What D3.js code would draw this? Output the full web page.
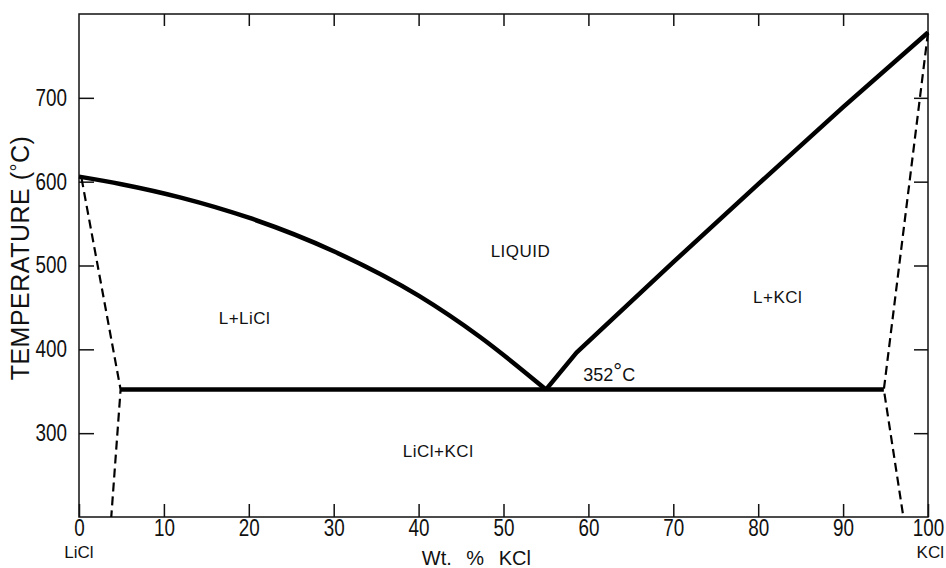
<!DOCTYPE html>
<html>
<head>
<meta charset="utf-8">
<script src="https://cdn.jsdelivr.net/npm/d3@7"></script>
<style>
  body { margin: 0; background: #fff; }
  svg text { font-family: "Liberation Sans", Arial, sans-serif; fill: #111; }
</style>
</head>
<body>
<svg id="chartSVG"></svg>
<script>
// data (wt% KCl, temperature in C)
let liquidusLiCl = [[0, 606], [5, 597], [12, 581], [20, 557], [30, 517], [40, 464], [47.2, 415], [55, 352]];
let liquidusKCl = [[55, 352], [58.6, 396], [70, 504], [80, 597], [90, 689], [100, 778]];
let eutectic = [[4.9, 352], [94.8, 352]];
let solvusLiCl = [[0.3, 604], [4.9, 352], [3.8, 200]];
let solvusKCl = [[100, 778], [94.8, 352], [97.1, 200]];

let xTicks = [0, 10, 20, 30, 40, 50, 60, 70, 80, 90, 100];
let yTicks = [300, 400, 500, 600, 700];

let regionLabels = [
  {text: 'LIQUID', x: 52, y: 510},
  {text: 'L+LiCl', x: 19.5, y: 430},
  {text: 'L+KCl', x: 82.3, y: 455},
  {text: 'LiCl+KCl', x: 42.3, y: 271}
];

let widthSVG = 946;
let heightSVG = 568;
let margins = {
  top: 14,
  bottom: 51,
  right: 18,
  left: 79
};

let width = widthSVG - margins.left - margins.right;
let height = heightSVG - margins.top - margins.bottom;

let SVG = d3.select('svg#chartSVG')
            .attr('width', widthSVG)
            .attr('height', heightSVG);

let SVGG = SVG.append('g')
              .attr('transform', `translate(${margins.left}, ${margins.top})`);

let x = d3.scaleLinear().domain([0, 100]).range([0, width]);
let y = d3.scaleLinear().domain([200, 800]).range([height, 0]);

// frame
SVGG.append('rect')
    .attr('width', width)
    .attr('height', height)
    .style('fill', 'none')
    .style('stroke', '#111')
    .style('stroke-width', 1.5);

// axes with inward ticks
let narrow = 0.82; // fake a narrow face, none is installed

let xAxis = d3.axisBottom(x).tickValues(xTicks).tickSize(-13).tickPadding(3).tickFormat(d => d);
let yAxis = d3.axisLeft(y).tickValues(yTicks).tickSize(-15).tickFormat(d => d);

let gx = SVGG.append('g').attr('transform', `translate(0, ${height})`).call(xAxis);
let gy = SVGG.append('g').call(yAxis);
let gTop = SVGG.append('g').call(d3.axisTop(x).tickValues(xTicks.slice(1, -1)).tickSize(-12).tickFormat(''));
let gRight = SVGG.append('g').attr('transform', `translate(${width}, 0)`)
                 .call(d3.axisRight(y).tickValues(yTicks).tickSize(-14).tickFormat(''));

[gx, gy, gTop, gRight].forEach(g => {
  g.select('.domain').remove();
  g.selectAll('.tick line').style('stroke', '#111').style('stroke-width', 1.5);
  g.selectAll('text')
   .style('font-family', '"Liberation Sans", Arial, sans-serif')
   .style('font-size', '23px')
   .style('fill', '#111')
   .attr('transform', `scale(${narrow}, 1)`);
});
gx.selectAll('text').attr('x', 0);
gy.selectAll('text').attr('x', -12 / narrow);

// curves
let line = d3.line().x(d => x(d[0])).y(d => y(d[1]));

SVGG.append('path')
    .datum(liquidusLiCl)
    .attr('d', line.curve(d3.curveMonotoneX))
    .style('fill', 'none').style('stroke', '#000').style('stroke-width', 4.5);

line.curve(d3.curveLinear);

SVGG.append('path')
    .datum(liquidusKCl)
    .attr('d', line)
    .style('fill', 'none').style('stroke', '#000').style('stroke-width', 4.5)
    .style('stroke-linejoin', 'round');

SVGG.append('path')
    .datum(eutectic)
    .attr('d', line)
    .style('fill', 'none').style('stroke', '#000').style('stroke-width', 4.5);

[solvusLiCl, solvusKCl].forEach(s => {
  SVGG.append('path')
      .datum(s)
      .attr('d', line)
      .style('fill', 'none').style('stroke', '#000').style('stroke-width', 2.2)
      .style('stroke-dasharray', '9,5');
});

// region labels
SVGG.selectAll('text.region')
    .data(regionLabels)
    .enter()
    .append('text')
    .classed('region', true)
    .attr('x', d => x(d.x))
    .attr('y', d => y(d.y))
    .attr('text-anchor', 'middle')
    .style('font-size', '17px')
    .style('letter-spacing', '0.5px')
    .text(d => d.text);

let eut = SVGG.append('text')
    .attr('x', x(59.4))
    .attr('y', y(362))
    .style('font-size', '18px');
eut.append('tspan').text('352');
eut.append('tspan').attr('dy', -2).style('font-size', '22px').text('°');
eut.append('tspan').attr('dy', 2).text('C');

// axis titles
let yTitle = SVG.append('text')
   .attr('transform', `translate(29, 258) rotate(-90)`)
   .attr('text-anchor', 'middle')
   .style('font-size', '25px')
   .style('letter-spacing', '0.5px');
yTitle.append('tspan').text('TEMPERATURE (');
yTitle.append('tspan').attr('dy', -4).style('font-size', '20px').text('°');
yTitle.append('tspan').attr('dy', 4).text('C)');

SVG.append('text')
   .attr('x', margins.left + x(46.8)).attr('y', 565)
   .attr('text-anchor', 'middle')
   .style('font-size', '20px')
   .style('word-spacing', '9px')
   .text('Wt. % KCl');

SVG.append('text')
   .attr('x', margins.left + x(0)).attr('y', 558)
   .attr('text-anchor', 'middle')
   .style('font-size', '17px')
   .text('LiCl');

SVG.append('text')
   .attr('x', 944).attr('y', 558)
   .attr('text-anchor', 'end')
   .style('font-size', '17px')
   .text('KCl');
</script>
</body>
</html>
